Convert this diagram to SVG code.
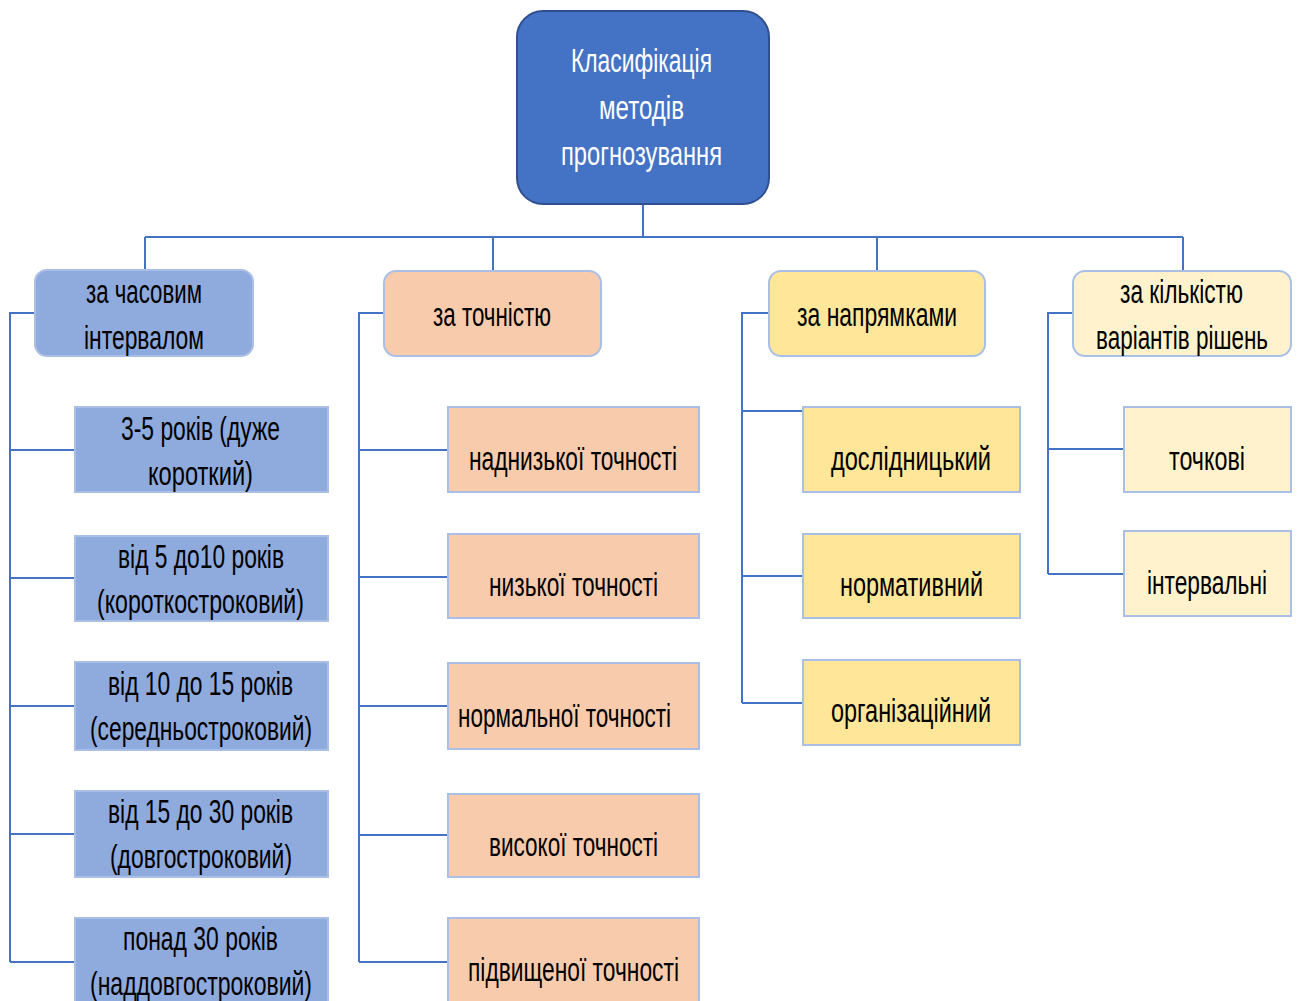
<svg xmlns="http://www.w3.org/2000/svg" width="1300" height="1001" viewBox="0 0 1300 1001">
<defs>
<style>
.t{font-family:"Liberation Sans","DejaVu Sans",sans-serif;font-size:34px;fill:#000;text-anchor:start}
.w{fill:#fff}
.c{fill:none;stroke:#4472C4;stroke-width:2}
.root{fill:#4472C4;stroke:#2F4F8F;stroke-width:2}
.blue{fill:#8FAADC;stroke:#A9BFE6;stroke-width:2}
.peach{fill:#F8CBAD;stroke:#A9BFE6;stroke-width:2}
.yel{fill:#FFE699;stroke:#A9BFE6;stroke-width:2}
.cream{fill:#FFF2CC;stroke:#A9BFE6;stroke-width:2}
</style>
</defs>
<rect width="1300" height="1001" fill="#fff"/>
<g id="connectors">
<path class="c" d="M643 204 V237 M145 237 H1183 M145 237 V270 M493 237 V271 M877 237 V271 M1183 237 V271"/>
<path class="c" d="M35 313 H10 V962 M10 450 H75 M10 578 H75 M10 706 H75 M10 834 H75 M10 962 H75"/>
<path class="c" d="M384 313 H359 V962 M359 450 H448 M359 577 H448 M359 706 H448 M359 835 H448 M359 962 H448"/>
<path class="c" d="M769 313 H742 V703 M742 411 H805 V467 M742 576 H803 M742 703 H803"/>
<path class="c" d="M1073 313 H1048 V574 M1048 449 H1124 M1048 574 H1124"/>
</g>
<g id="root">
<rect class="root" x="517" y="11" width="252" height="193" rx="26"/>
<text class="t w" x="571" y="72" textLength="141" lengthAdjust="spacingAndGlyphs">Класифікація</text>
<text class="t w" x="599" y="119" textLength="85" lengthAdjust="spacingAndGlyphs">методів</text>
<text class="t w" x="561" y="165" textLength="161" lengthAdjust="spacingAndGlyphs">прогнозування</text>
</g>
<g id="n-time">
<rect class="blue" x="35" y="270" width="218" height="86" rx="12"/>
<text class="t" x="86" y="303" textLength="116" lengthAdjust="spacingAndGlyphs">за часовим</text>
<text class="t" x="84" y="349" textLength="120" lengthAdjust="spacingAndGlyphs">інтервалом</text>
</g>
<g id="n-acc">
<rect class="peach" x="384" y="271" width="217" height="85" rx="12"/>
<text class="t" x="433" y="326" textLength="118" lengthAdjust="spacingAndGlyphs">за точністю</text>
</g>
<g id="n-dir">
<rect class="yel" x="769" y="271" width="216" height="85" rx="12"/>
<text class="t" x="797" y="326" textLength="160" lengthAdjust="spacingAndGlyphs">за напрямками</text>
</g>
<g id="n-var">
<rect class="cream" x="1073" y="271" width="218" height="85" rx="12"/>
<text class="t" x="1120" y="303" textLength="123" lengthAdjust="spacingAndGlyphs">за кількістю</text>
<text class="t" x="1096" y="349" textLength="172" lengthAdjust="spacingAndGlyphs">варіантів рішень</text>
</g>
<g id="t1">
<rect class="blue" x="75" y="407" width="253" height="85"/>
<text class="t" x="121" y="440" textLength="159" lengthAdjust="spacingAndGlyphs">3-5 років (дуже</text>
<text class="t" x="148" y="485" textLength="105" lengthAdjust="spacingAndGlyphs">короткий)</text>
</g>
<g id="t2">
<rect class="blue" x="75" y="536" width="253" height="85"/>
<text class="t" x="118" y="568" textLength="166" lengthAdjust="spacingAndGlyphs">від 5 до10 років</text>
<text class="t" x="97" y="613" textLength="207" lengthAdjust="spacingAndGlyphs">(короткостроковий)</text>
</g>
<g id="t3">
<rect class="blue" x="75" y="662" width="253" height="88"/>
<text class="t" x="108" y="695" textLength="185" lengthAdjust="spacingAndGlyphs">від 10 до 15 років</text>
<text class="t" x="90" y="740" textLength="222" lengthAdjust="spacingAndGlyphs">(середньостроковий)</text>
</g>
<g id="t4">
<rect class="blue" x="75" y="791" width="253" height="86"/>
<text class="t" x="108" y="823" textLength="185" lengthAdjust="spacingAndGlyphs">від 15 до 30 років</text>
<text class="t" x="110" y="868" textLength="182" lengthAdjust="spacingAndGlyphs">(довгостроковий)</text>
</g>
<g id="t5">
<rect class="blue" x="75" y="918" width="253" height="90"/>
<text class="t" x="123" y="950" textLength="155" lengthAdjust="spacingAndGlyphs">понад 30 років</text>
<text class="t" x="90" y="995" textLength="222" lengthAdjust="spacingAndGlyphs">(наддовгостроковий)</text>
</g>
<g id="a1">
<rect class="peach" x="448" y="407" width="251" height="85"/>
<text class="t" x="469" y="470" textLength="208" lengthAdjust="spacingAndGlyphs">наднизької точності</text>
</g>
<g id="a2">
<rect class="peach" x="448" y="534" width="251" height="84"/>
<text class="t" x="489" y="596" textLength="169" lengthAdjust="spacingAndGlyphs">низької точності</text>
</g>
<g id="a3">
<rect class="peach" x="448" y="663" width="251" height="86"/>
<text class="t" x="458" y="727" textLength="213" lengthAdjust="spacingAndGlyphs">нормальної точності</text>
</g>
<g id="a4">
<rect class="peach" x="448" y="794" width="251" height="83"/>
<text class="t" x="489" y="856" textLength="169" lengthAdjust="spacingAndGlyphs">високої точності</text>
</g>
<g id="a5">
<rect class="peach" x="448" y="918" width="251" height="90"/>
<text class="t" x="468" y="981" textLength="211" lengthAdjust="spacingAndGlyphs">підвищеної точності</text>
</g>
<g id="d1">
<rect class="yel" x="803" y="407" width="217" height="85"/>
<text class="t" x="831" y="470" textLength="160" lengthAdjust="spacingAndGlyphs">дослідницький</text>
</g>
<g id="d2">
<rect class="yel" x="803" y="534" width="217" height="84"/>
<text class="t" x="840" y="596" textLength="143" lengthAdjust="spacingAndGlyphs">нормативний</text>
</g>
<g id="d3">
<rect class="yel" x="803" y="660" width="217" height="85"/>
<text class="t" x="831" y="722" textLength="160" lengthAdjust="spacingAndGlyphs">організаційний</text>
</g>
<g id="v1">
<rect class="cream" x="1124" y="407" width="167" height="85"/>
<text class="t" x="1169" y="470" textLength="76" lengthAdjust="spacingAndGlyphs">точкові</text>
</g>
<g id="v2">
<rect class="cream" x="1124" y="531" width="167" height="85"/>
<text class="t" x="1147" y="594" textLength="120" lengthAdjust="spacingAndGlyphs">інтервальні</text>
</g>
</svg>
